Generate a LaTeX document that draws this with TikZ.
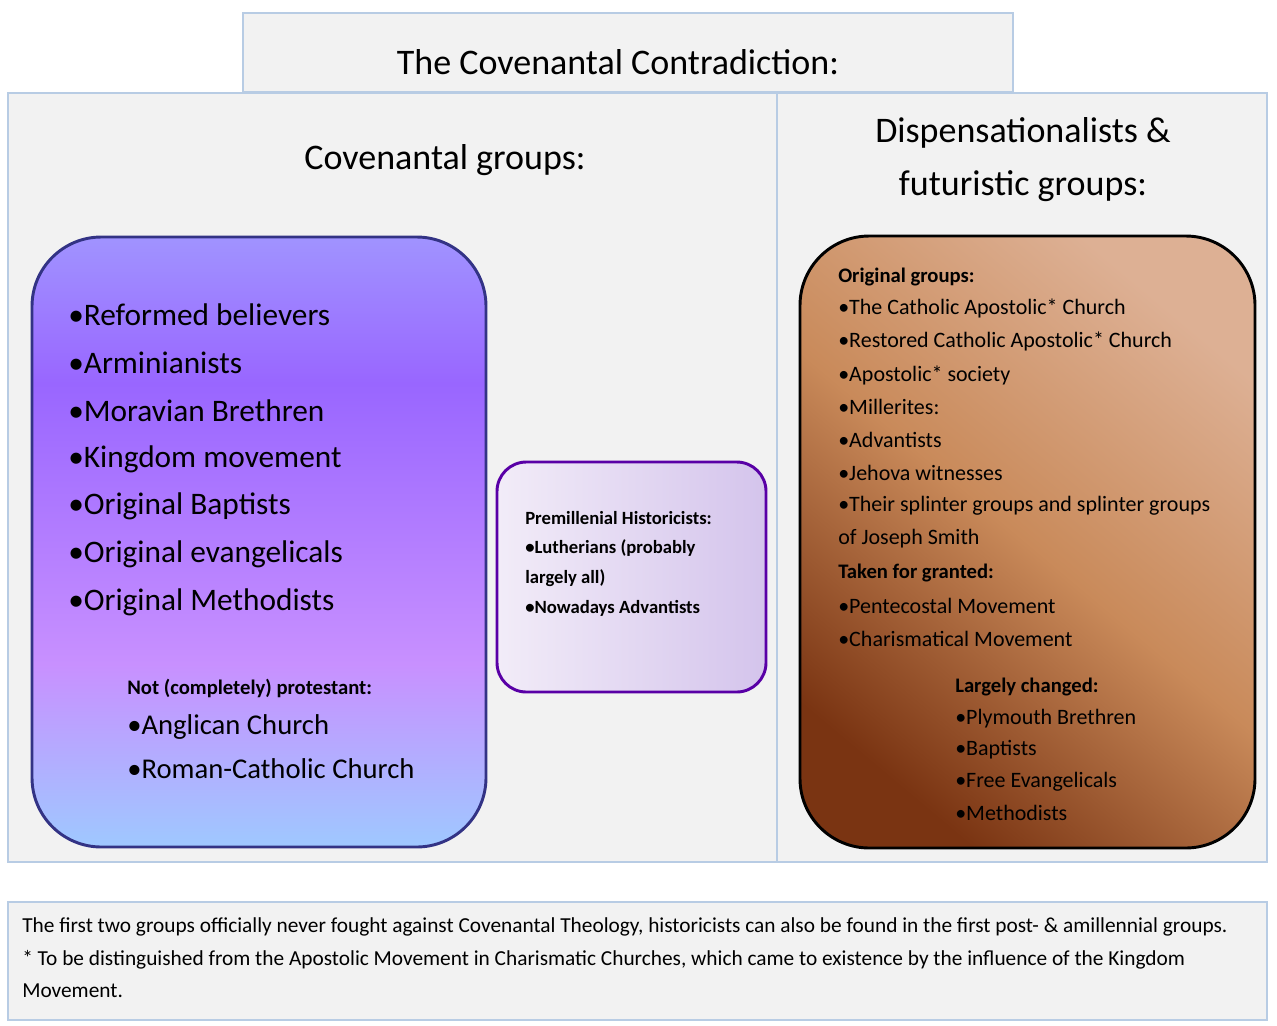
\documentclass[tikz,border=0pt]{standalone}
\usepackage{fontspec}
\setmainfont{Carlito}
\begin{document}
\definecolor{fbl}{HTML}{B8CCE4}
\definecolor{fgr}{HTML}{F2F2F2}
\definecolor{br1}{HTML}{DDB094}
\definecolor{br2}{HTML}{7A3412}
\definecolor{br3}{HTML}{C98A5A}
\definecolor{lc0}{HTML}{B4BEFF}
\definecolor{lc1}{HTML}{9CCCFF}
\definecolor{lc2}{HTML}{C890FF}
\definecolor{lc3}{HTML}{9966FF}
\definecolor{lc4}{HTML}{A8C4FF}
\definecolor{lc5}{HTML}{C4C4FF}
\definecolor{mc1}{HTML}{F2ECF8}
\definecolor{mc2}{HTML}{D4C4EC}
\pgfdeclareverticalshading{lsh}{100bp}{color(0bp)=(lc0); color(24bp)=(lc1); color(40bp)=(lc2); color(63bp)=(lc3); color(88bp)=(lc4); color(100bp)=(lc5)}
\pgfdeclareverticalshading{brsh}{100bp}{color(0bp)=(br2); color(25bp)=(br2); color(50bp)=(br3); color(75bp)=(br1); color(100bp)=(br1)}
\begin{tikzpicture}[x=0.75pt,y=-0.75pt,
  frame/.style={draw=fbl,line width=2.2pt,fill=fgr},
  ll/.style={anchor=west,inner sep=0pt,font=\fontsize{23.5}{28}\selectfont},
  rl/.style={anchor=west,inner sep=0pt,font=\fontsize{16.5}{20}\selectfont},
  rb/.style={anchor=west,inner sep=0pt,font=\fontsize{15.5}{19}\selectfont\bfseries},
  ml/.style={anchor=west,inner sep=0pt,font=\fontsize{14}{17}\selectfont\bfseries},
  bl/.style={anchor=west,inner sep=0pt,font=\fontsize{16}{19}\selectfont}]
\useasboundingbox (0,0) rectangle (1277,1025);
\fill[white] (0,0) rectangle (1277,1025);
\node[frame,minimum width=770*0.75pt,minimum height=79*0.75pt] (title) at (628,52.5) {};
\node[font=\fontsize{27}{32}\selectfont] at (618,62) {The Covenantal Contradiction:};
\draw[frame] (8,93) rectangle (777,862);
\draw[frame] (777,93) rectangle (1267,862);
\node[font=\fontsize{27}{30}\selectfont] (cg) at (445,160) {Covenantal groups:};
\node[font=\fontsize{27}{30}\selectfont] (dg1) at (1023,133) {Dispensationalists \&};
\node[font=\fontsize{27}{30}\selectfont] (dg2) at (1023,186) {futuristic groups:};
% left box
\shade[shading=lsh,rounded corners=52pt] (32,237) rectangle (486,847);
\draw[draw=blue!40!black!80,line width=2.2pt,rounded corners=52pt] (32,237) rectangle (486,847);
\node[ll] at (68,315) {•Reformed believers};
\node[ll] at (68,363) {•Arminianists};
\node[ll] at (68,411) {•Moravian Brethren};
\node[ll] at (68,459) {•Kingdom movement};
\node[ll] at (68,506) {•Original Baptists};
\node[ll] at (68,554) {•Original evangelicals};
\node[ll] at (68,602) {•Original Methodists};
\node[rb] at (127,688) {Not (completely) protestant:};
\node[ll,font=\fontsize{21.5}{26}\selectfont] at (127,727) {•Anglican Church};
\node[ll,font=\fontsize{21.5}{26}\selectfont] at (127,769) {•Roman-Catholic Church};
% middle box
\shade[left color=mc1,right color=mc2,rounded corners=22pt] (497,462) rectangle (766,692);
\draw[draw=violet!70!blue,line width=2.2pt,rounded corners=22pt] (497,462) rectangle (766,692);
\node[ml] at (525,518) {Premillenial Historicists:};
\node[ml] at (525,548) {•Lutherians (probably};
\node[ml] at (525,578) {largely all)};
\node[ml] at (525,608) {•Nowadays Advantists};
% right box
\shade[shading=brsh,shading angle=-40,rounded corners=52pt] (800,236) rectangle (1255,848);
\draw[line width=2.2pt,rounded corners=52pt] (800,236) rectangle (1255,848);
\node[rb] at (838,277) {Original groups:};
\node[rl] at (838,308) {•The Catholic Apostolic* Church};
\node[rl] at (838,341) {•Restored Catholic Apostolic* Church};
\node[rl] at (838,375) {•Apostolic* society};
\node[rl] at (838,407) {•Millerites:};
\node[rl] at (838,440) {•Advantists};
\node[rl] at (838,473) {•Jehova witnesses};
\node[rl] at (838,506) {•Their splinter groups and splinter groups};
\node[rl] at (838,539) {of Joseph Smith};
\node[rb] at (838,573) {Taken for granted:};
\node[rl] at (838,606) {•Pentecostal Movement};
\node[rl] at (838,639) {•Charismatical Movement};
\node[rb] at (955,687) {Largely changed:};
\node[rl] at (955,719) {•Plymouth Brethren};
\node[rl] at (955,750) {•Baptists};
\node[rl] at (955,782) {•Free Evangelicals};
\node[rl] at (955,813) {•Methodists};
% bottom
\draw[frame] (8,902) rectangle (1267,1020);
\node[bl] at (22,927) {The first two groups officially never fought against Covenantal Theology, historicists can also be found in the first post- \& amillennial groups.};
\node[bl] at (22,960) {* To be distinguished from the Apostolic Movement in Charismatic Churches, which came to existence by the influence of the Kingdom};
\node[bl] at (22,991) {Movement.};
\end{tikzpicture}
\end{document}
